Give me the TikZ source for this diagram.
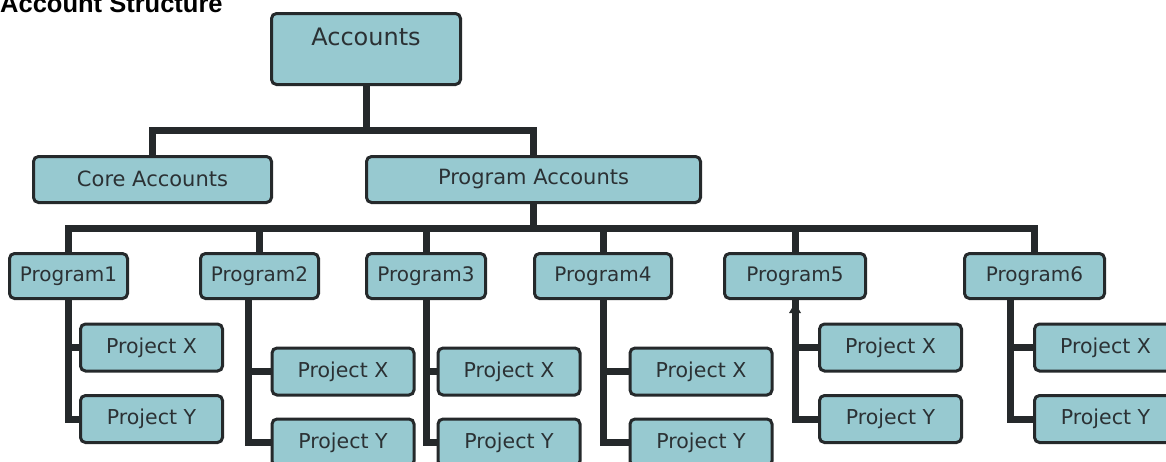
\documentclass[tikz,border=0pt]{standalone}
\usepackage{fontspec}
\setmainfont{DejaVu Sans}
\newfontfamily\titlefont{Liberation Sans}
\usetikzlibrary{calc}
\definecolor{boxfill}{HTML}{97C9D0}
\definecolor{ink}{HTML}{25292B}
\definecolor{txt}{HTML}{2B3134}
\begin{document}
\begin{tikzpicture}[x=1pt,y=-1pt,
  box/.style={draw=ink, fill=boxfill, line width=3pt, rounded corners=5pt,
    inner sep=0pt, text=txt, font=\fontsize{20.5}{24}\selectfont},
  progbox/.style={box, minimum height=45pt, font=\fontsize{20}{24}\selectfont},
  projbox/.style={box, minimum width=142pt, minimum height=47pt},
  acctbox/.style={box, minimum height=46pt, font=\fontsize{21}{24}\selectfont},
  conn/.style={draw=ink, line width=7pt, line join=miter},
  titletext/.style={inner sep=0pt, anchor=base west, text=black,
    font=\titlefont\bfseries\fontsize{25.5}{30}\selectfont}
]
\useasboundingbox (0,0) rectangle (1166,461);
\clip (0,0) rectangle (1166,461);

\coordinate (bus1) at (0,130);
\coordinate (bus2) at (0,228);

% title
\node[titletext] (title) at (0,12.5) {Account Structure};

% top levels
\node[box, minimum width=189pt, minimum height=71pt, text height=18pt, text depth=24.5pt,
  font=\fontsize{24}{28}\selectfont] (acc) at (366,49) {Accounts};
\node[acctbox, minimum width=238pt, text height=15pt, text depth=2pt] (core) at (152.5,179.5) {Core Accounts};
\node[acctbox, minimum width=334pt] (pacc) at (533.5,179.5) {Program Accounts};

% programs
\node[progbox, minimum width=118pt] (p1) at (68.5,276) {Program1};
\node[progbox, minimum width=118pt] (p2) at (259.5,276) {Program2};
\node[progbox, minimum width=119pt] (p3) at (426,276) {Program3};
\node[progbox, minimum width=137pt] (p4) at (603,276) {Program4};
\node[progbox, minimum width=141pt] (p5) at (795,276) {Program5};
\node[progbox, minimum width=140pt] (p6) at (1034.5,276) {Program6};

% projects
\node[projbox] (p1x) at (151.5,347.5) {Project X};
\node[projbox] (p1y) at (151.5,419) {Project Y};
\node[projbox] (p2x) at (343,371.5) {Project X};
\node[projbox] (p2y) at (343,442.5) {Project Y};
\node[projbox] (p3x) at (509,371.5) {Project X};
\node[projbox] (p3y) at (509,442.5) {Project Y};
\node[projbox] (p4x) at (701,371.5) {Project X};
\node[projbox] (p4y) at (701,442.5) {Project Y};
\node[projbox] (p5x) at (890.5,347.5) {Project X};
\node[projbox] (p5y) at (890.5,419) {Project Y};
\node[projbox] (p6x) at (1105.5,347.5) {Project X};
\node[projbox] (p6y) at (1105.5,419) {Project Y};

% connectors: top
\draw[conn] (acc.south) -- (acc.south |- bus1);
\draw[conn] (core.north) -- (core.north |- bus1) -- (pacc.north |- bus1) -- (pacc.north);

% connectors: program bus
\draw[conn] (pacc.south) -- (pacc.south |- bus2);
\draw[conn] (p1.north) -- (p1.north |- bus2) -- (p6.north |- bus2) -- (p6.north);
\foreach \p in {p2,p3,p4,p5} {
  \draw[conn] (\p.north) -- (\p.north |- bus2);
}

% connectors: projects
\coordinate (v1) at (p1.south);
\coordinate (v2) at ([xshift=-11.5pt]p2.south);
\coordinate (v3) at (p3.south);
\coordinate (v4) at (p4.south);
\coordinate (v5) at (p5.south);
\coordinate (v6) at ([xshift=-24.5pt]p6.south);
\foreach \i in {1,...,6} {
  \draw[conn] (v\i) -- (v\i |- p\i y.west) -- (p\i y.west);
  \draw[conn] (v\i |- p\i x.west) -- (p\i x.west);
}

% small arrow mark below Program5
\fill[ink] ($(p5.south)+(-6,13)$) -- ($(p5.south)+(0,3)$) -- ($(p5.south)+(6,13)$) -- cycle;
\end{tikzpicture}
\end{document}
